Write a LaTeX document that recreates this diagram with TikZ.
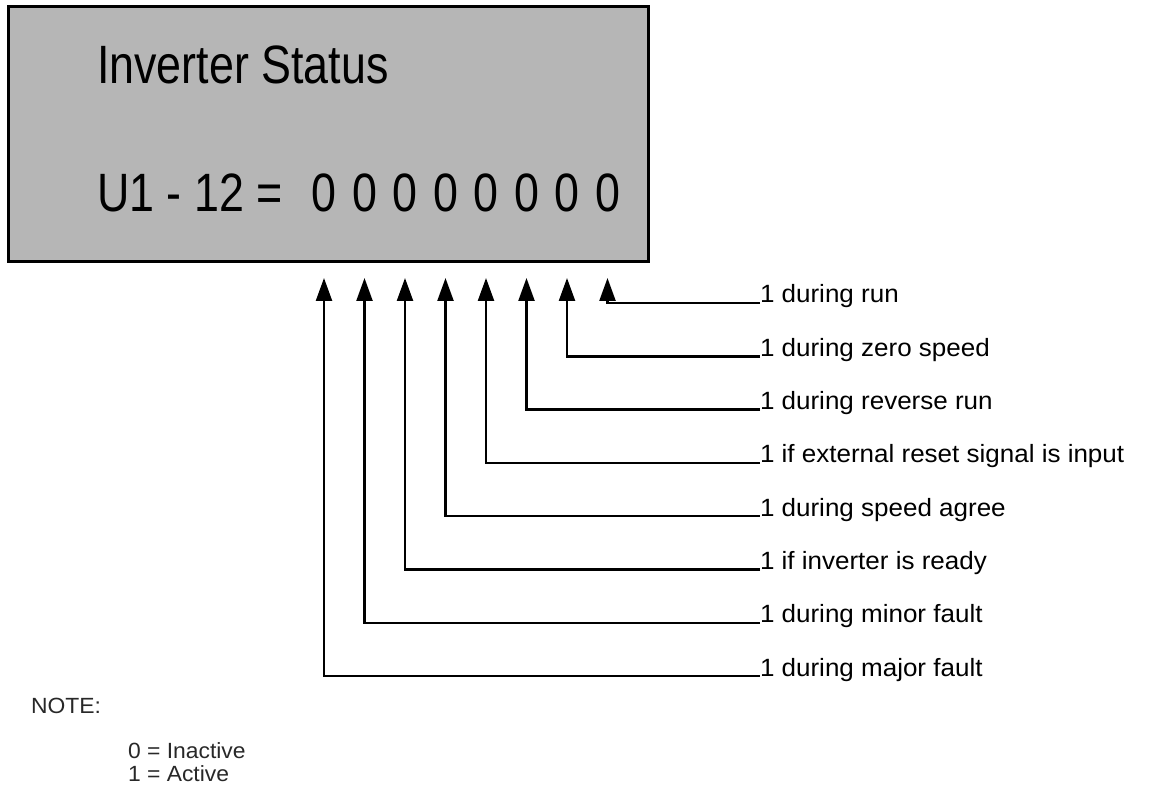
\documentclass[tikz,border=0pt]{standalone}
\usepackage{fontspec}
\setmainfont{Liberation Sans}
\newfontfamily\bigfont[FakeStretch=0.83]{Liberation Sans}
\newfontfamily\labfont[FakeStretch=1.04]{Liberation Sans}
\usetikzlibrary{arrows.meta}
\definecolor{boxgray}{RGB}{182,182,182}
\definecolor{notegray}{RGB}{40,40,40}
\begin{document}
\begin{tikzpicture}[x=1pt,y=-1pt,
  panel/.style={draw=black,line width=3pt,fill=boxgray,minimum width=640pt,minimum height=255pt,inner sep=0pt,outer sep=0pt},
  bigtext/.style={font=\bigfont\fontsize{54}{60}\selectfont,inner sep=0pt,outer sep=0pt,text=black},
  bittext/.style={bigtext,anchor=base},
  labtext/.style={font=\labfont\fontsize{25}{28}\selectfont,inner sep=0pt,outer sep=0pt,anchor=base west},
  notetext/.style={font=\labfont\fontsize{22}{26}\selectfont,inner sep=0pt,outer sep=0pt,anchor=base west,text=notegray},
  pointer/.style={line width=2.4pt,-{Triangle[length=23pt,width=16pt]}}
]
\useasboundingbox (0,0) rectangle (1154,794);
\node[panel] (panel) at (328.5,134) {};
\node[bigtext,anchor=base west] (title) at (97,84) {Inverter Status};
\node[bigtext,anchor=base west] (param) at (97,212) {U1 - 12 =};
\foreach \i in {0,...,7} {
  \node[bittext] (z\i) at ({324+40.5*\i},212) {0};
  \coordinate (t\i) at ({324+40.5*\i},278);
}
\foreach \i/\txt in {7/1 during run,6/1 during zero speed,5/1 during reverse run,4/1 if external reset signal is input,3/1 during speed agree,2/1 if inverter is ready,1/1 during minor fault,0/1 during major fault} {
  \node[labtext] (l\i) at (760,{303+53.3*(7-\i)}) {\txt};
  \draw[pointer] (l\i.base west) -| (t\i);
}
\node[notetext] (note) at (31,713) {NOTE:};
\node[notetext] (inact) at (128,758) {0 = Inactive};
\node[notetext] (act) at (128,781) {1 = Active};
\end{tikzpicture}
\end{document}
